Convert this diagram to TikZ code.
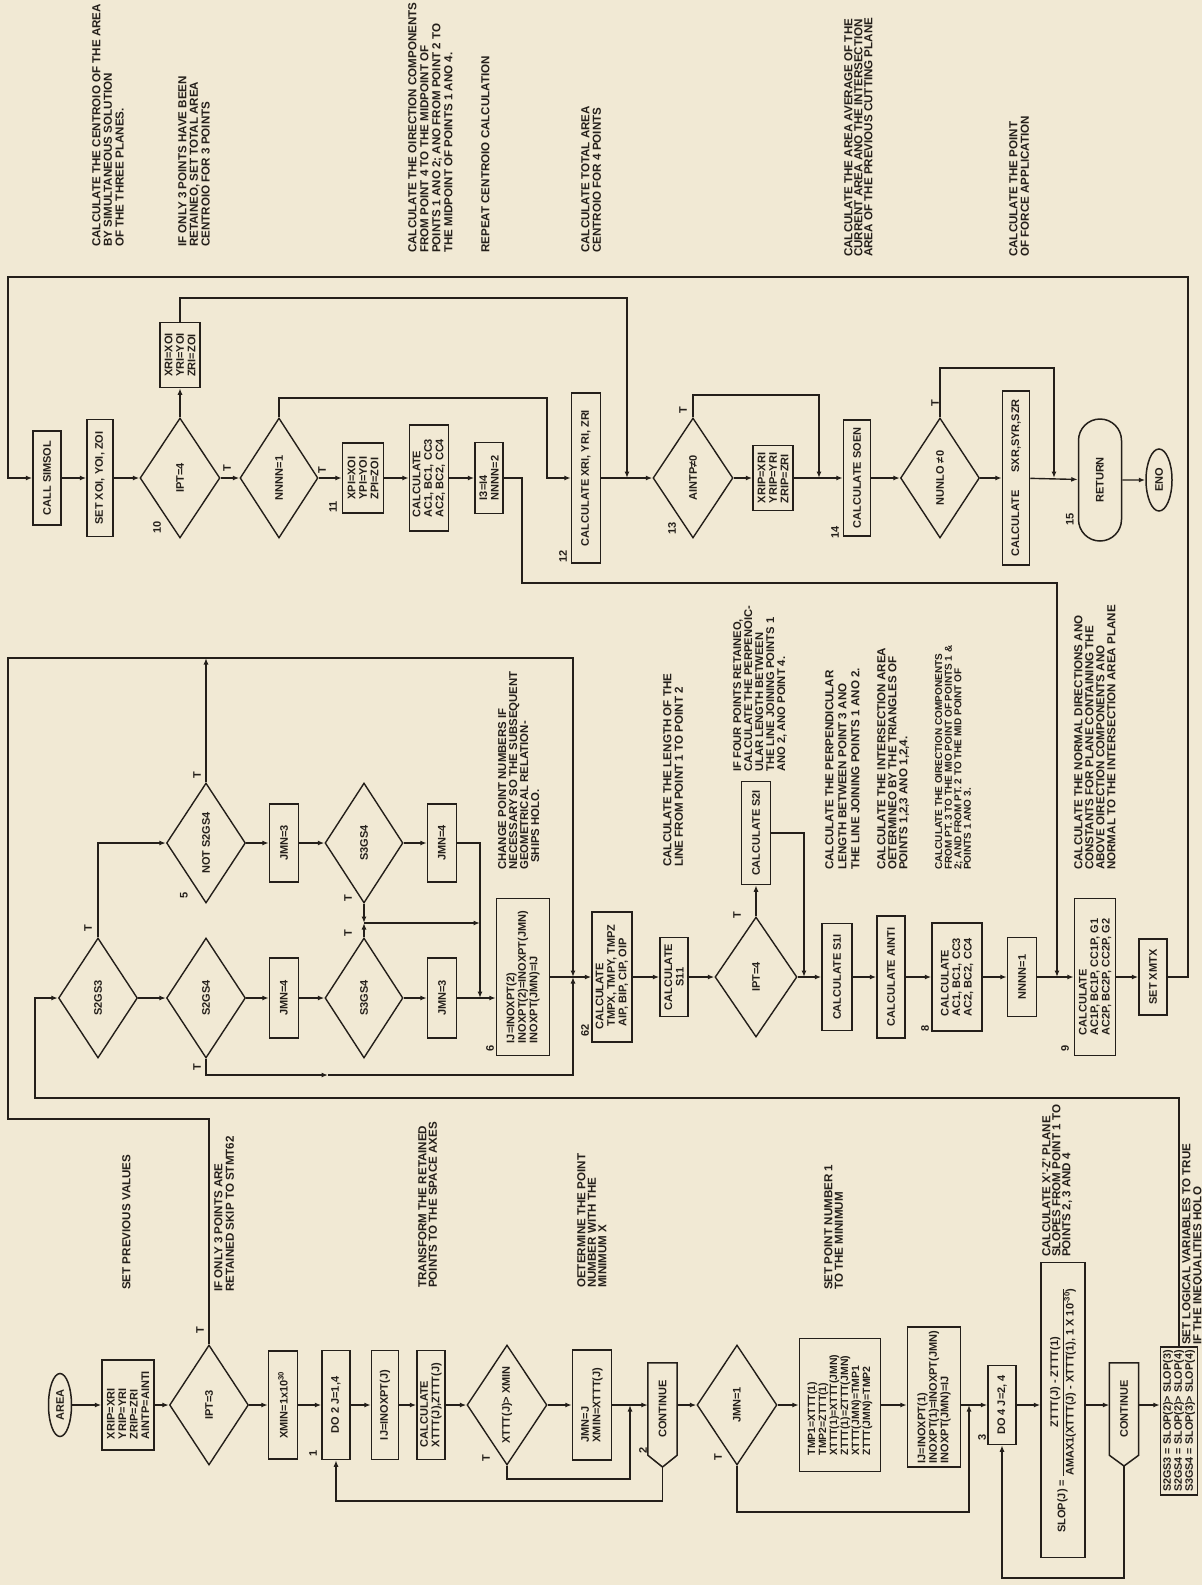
\documentclass[tikz,border=0pt]{standalone}
\usepackage{fontspec}
\usepackage{amsmath}
\setmainfont{Liberation Sans}
\usetikzlibrary{shapes.geometric,shapes.misc,arrows.meta}
\definecolor{bg}{RGB}{241,233,212}
\definecolor{ink}{RGB}{36,31,26}
\newcommand\bxf{\fontsize{11}{11.5}\selectfont\bfseries}
\newcommand\anf{\fontsize{11.6}{11.6}\selectfont\bfseries}
\begin{document}
\begin{tikzpicture}[x=1pt,y=-1pt,
  ln/.style={draw=ink,line width=1.4pt},
  arr/.style={draw=ink,line width=1.4pt,-{Latex[length=6.5pt,width=5pt]}},
  bx/.style={draw=ink,line width=1.5pt,rectangle,rotate=90,inner sep=1pt,font=\bxf,align=left,text=ink},
  dia/.style={draw=ink,line width=1.4pt,diamond,aspect=1.5,rotate=90,inner sep=0pt,font=\bxf,text=ink,minimum width=120,minimum height=80},
  ann/.style={rotate=90,anchor=north west,inner sep=0pt,align=left,font=\anf,text=ink},
  lab/.style={rotate=90,inner sep=0pt,font=\bxf,text=ink},
  term/.style={draw=ink,line width=1.5pt,rounded rectangle,rotate=90,inner sep=1pt,font=\bxf,text=ink},
  ell/.style={draw=ink,line width=1.5pt,ellipse,rotate=90,inner sep=0pt,font=\bxf,text=ink},
  cont/.style={rotate=90,inner sep=0pt,font=\bxf,text=ink,minimum width=92,minimum height=29}
]
\fill[bg] (0,0) rectangle (1202,1585);
\useasboundingbox (0,0) rectangle (1202,1585);

% ---------------- annotations, band A
\node[ann] (a1) at (92,247) {CALCULATE THE CENTROIO OF THE AREA\\BY SIMULTANEOUS SOLUTION\\OF THE THREE PLANES.};
\node[ann] (a2) at (178,247) {IF ONLY 3 POINTS HAVE BEEN\\RETAINEO, SET TOTAL AREA\\CENTROIO FOR 3 POINTS};
\node[ann,font={\fontsize{11.6}{12}\selectfont\bfseries}] (a3) at (408,253) {CALCULATE THE OIRECTION COMPONENTS\\FROM POINT 4 TO THE MIDPOINT OF\\POINTS 1 ANO 2; ANO FROM POINT 2 TO\\THE MIDPOINT OF POINTS 1 ANO 4.};
\node[ann] (a4) at (481,253) {REPEAT CENTROIO CALCULATION};
\node[ann] (a5) at (581,253) {CALCULATE TOTAL AREA\\CENTROIO FOR 4 POINTS};
\node[ann,font={\fontsize{11.6}{10}\selectfont\bfseries}] (a6) at (844,257) {CALCULATE THE AREA AVERAGE OF THE\\CURRENT AREA ANO THE INTERSECTION\\AREA OF THE PREVIOUS CUTTING PLANE};
\node[ann] (a7) at (1009,257) {CALCULATE THE POINT\\OF FORCE APPLICATION};

% ---------------- annotations, band B
\node[ann,font={\fontsize{11.4}{11}\selectfont\bfseries}] (b1) at (498,870) {CHANGE POINT NUMBERS IF\\NECESSARY SO THE SUBSEQUENT\\GEOMETRICAL RELATION-\\\hspace*{7pt}SHIPS HOLO.};
\node[ann] (b2) at (663,867) {CALCULATE THE LENGTH OF THE\\LINE FROM POINT 1 TO POINT 2};
\node[ann,font={\fontsize{11.2}{11}\selectfont\bfseries}] (b3) at (733,772) {IF FOUR POINTS RETAINEO,\\CALCULATE THE PERPENOIC-\\ULAR LENGTH BETWEEN\\THE LINE JOINING POINTS 1\\ANO 2, ANO POINT 4.};
\node[ann,font={\fontsize{11.6}{13}\selectfont\bfseries}] (b4) at (825,870) {CALCULATE THE PERPENDICULAR\\LENGTH BETWEEN POINT 3 ANO\\THE LINE JOINING POINTS 1 ANO 2.};
\node[ann,font={\fontsize{11.6}{11}\selectfont\bfseries}] (b5) at (877,870) {CALCULATE THE INTERSECTION AREA\\OETERMINEO BY THE TRIANGLES OF\\POINTS 1,2,3 ANO 1,2,4.};
\node[ann,font={\fontsize{10}{9.6}\selectfont\bfseries}] (b6) at (935,870) {CALCULATE THE OIRECTION COMPONENTS\\FROM PT. 3 TO THE MIO POINT OF POINTS 1 \&\\2; AND FROM PT. 2 TO THE MID POINT OF\\POINTS 1 ANO 3.};
\node[ann,font={\fontsize{11.6}{11}\selectfont\bfseries}] (b7) at (1074,870) {CALCULATE THE NORMAL DIRECTIONS ANO\\CONSTANTS FOR PLANE CONTAINING THE\\ABOVE OIRECTION COMPONENTS ANO\\NORMAL TO THE INTERSECTION AREA PLANE};

% ---------------- annotations, band C
\node[ann] (c1) at (122,1290) {SET PREVIOUS VALUES};
\node[ann] (c2) at (214,1292) {IF ONLY 3 POINTS ARE\\RETAINED SKIP TO STMT62};
\node[ann,font={\fontsize{11.6}{10.5}\selectfont\bfseries}] (c3) at (418,1288) {TRANSFORM THE RETAINED\\POINTS TO THE SPACE AXES};
\node[ann,font={\fontsize{11.6}{10.5}\selectfont\bfseries}] (c4) at (577,1288) {OETERMINE THE POINT\\NUMBER WITH THE\\MINIMUM X};
\node[ann,font={\fontsize{11.6}{10.5}\selectfont\bfseries}] (c5) at (824,1290) {SET POINT NUMBER 1\\TO THE MINIMUM};
\node[ann,font={\fontsize{11.6}{10}\selectfont\bfseries}] (c6) at (1042,1257) {CALCULATE X'-Z' PLANE\\SLOPES FROM POINT 1 TO\\POINTS 2, 3 AND 4};
\node[ann,font={\fontsize{11.6}{11}\selectfont\bfseries}] (c7) at (1182,1345) {SET LOGICAL VARIABLES TO TRUE\\IF THE INEQUALITIES HOLO};

% ---------------- band A nodes
\node[bx,minimum width=94,minimum height=28] (simsol) at (47,478) {CALL SIMSOL};
\node[bx,minimum width=117,minimum height=26] (setxoi) at (100,478) {SET XOI, YOI, ZOI};
\node[dia] (ipt4) at (180,478) {IPT=4};
\node[bx,minimum width=65,minimum height=40] (xrixoi) at (180,355) {XRI=XOI\\YRI=YOI\\ZRI=ZOI};
\node[dia,minimum height=78] (nnnn1) at (279,478) {NNNN=1};
\node[bx,minimum width=70,minimum height=41] (xpi) at (363,478) {XPI=XOI\\YPI=YOI\\ZPI=ZOI};
\node[bx,minimum width=106,minimum height=39] (ac1a) at (429,478) {CALCULATE\\AC1, BC1, CC3\\AC2, BC2, CC4};
\node[bx,minimum width=71,minimum height=28] (i3i4) at (489,478) {I3=I4\\NNNN=2};
\node[bx,minimum width=170,minimum height=29] (calcxri) at (586,478) {CALCULATE XRI, YRI, ZRI};
\node[dia] (aintp) at (693,478) {AINTP≠0};
\node[bx,minimum width=65,minimum height=40] (xrip) at (773,478) {XRIP=XRI\\YRIP=YRI\\ZRIP=ZRI};
\node[bx,minimum width=116,minimum height=27] (soen) at (857,478) {CALCULATE SOEN};
\node[dia,minimum height=79] (nunlo) at (940,478) {NUNLO ≠0};
\node[bx,minimum width=174,minimum height=27] (sxr) at (1016,478) {CALCULATE\hspace{18pt}SXR,SYR,SZR};
\node[term,minimum width=124,minimum height=43] (ret) at (1100,480) {RETURN};
\node[ell,minimum width=62,minimum height=26] (endn) at (1159,480) {ENO};

\coordinate (j13) at (627,478);
\coordinate (j14) at (819,478);
\coordinate (j15) at (1054,478);

% ---------------- band B nodes
\node[dia,minimum height=79] (s2gs3) at (98,998) {S2GS3};
\node[dia,minimum height=79] (s2gs4) at (206,998) {S2GS4};
\node[dia,minimum height=79] (nots2) at (206,843) {NOT S2GS4};
\node[bx,minimum width=80,minimum height=29] (jmn4a) at (284,998) {JMN=4};
\node[bx,minimum width=78,minimum height=29] (jmn3a) at (284,843) {JMN=3};
\node[dia,minimum height=78] (s3a) at (364,843) {S3GS4};
\node[dia,minimum height=78] (s3b) at (364,998) {S3GS4};
\node[bx,minimum width=78,minimum height=29] (jmn4b) at (442,843) {JMN=4};
\node[bx,minimum width=80,minimum height=29] (jmn3b) at (442,998) {JMN=3};
\node[bx,minimum width=157,minimum height=53] (box6) at (523,977) {IJ=INOXPT(2)\\INOXPT(2)=INOXPT(JMN)\\INOXPT(JMN)=IJ};
\node[bx,minimum width=130,minimum height=40] (tmpx) at (612,977) {CALCULATE\\\hspace*{3pt}TMPX, TMPY, TMPZ\\\hspace*{3pt}AIP, BIP, CIP, OIP};
\node[bx,align=center,minimum width=79,minimum height=28] (s1a) at (674,977) {CALCULATE\\S11};
\node[dia,minimum height=82] (ipt4b) at (756,977) {IPT=4};
\node[bx,minimum width=103,minimum height=29] (s2i) at (756,833) {CALCULATE S2I};
\node[bx,minimum width=107,minimum height=30] (s1b) at (837,977) {CALCULATE S1I};
\node[bx,minimum width=122,minimum height=28] (ainti) at (891,977) {CALCULATE AINTI};
\node[bx,minimum width=108,minimum height=50] (ac1b) at (957,977) {CALCULATE\\AC1, BC1, CC3\\AC2, BC2, CC4};
\node[bx,minimum width=79,minimum height=29] (nnnn1b) at (1022,977) {NNNN=1};
\node[bx,minimum width=157,minimum height=41] (ac1p) at (1095,977) {CALCULATE\\AC1P, BC1P, CC1P, G1\\AC2P, BC2P, CC2P, G2};
\node[bx,minimum width=76,minimum height=28] (xmtx) at (1153,977) {SET XMTX};

\coordinate (j9) at (1057,977);
\coordinate (j62) at (573,977);
\coordinate (j6) at (480,998);
\coordinate (jT) at (364,923);
\coordinate (jV) at (480,923);
\coordinate (jT5) at (206,658);
\coordinate (jS2) at (804,977);

% ---------------- band C nodes
\node[ell,minimum width=63,minimum height=23] (area) at (60,1405) {AREA};
\node[bx,minimum width=90,minimum height=52] (xrip0) at (128,1405) {XRIP=XRI\\YRIP=YRI\\ZRIP=ZRI\\AINTP=AINTI};
\node[dia,minimum height=79] (ipt3) at (209,1405) {IPT=3};
\node[bx,minimum width=108,minimum height=29] (xmin) at (283,1405) {XMIN=1x10\textsuperscript{30}};
\node[bx,minimum width=109,minimum height=28] (do2) at (336,1405) {DO 2 J=1,4};
\node[bx,minimum width=109,minimum height=27] (ijx) at (385,1405) {IJ=INOXPT(J)};
\node[bx,minimum width=109,minimum height=28] (cxt) at (431,1405) {CALCULATE\\XTTT(J),ZTTT(J)};
\node[dia] (xtd) at (507,1405) {XTTT(J)> XMIN};
\node[bx,minimum width=110,minimum height=39] (jmnj) at (592,1405) {JMN=J\\XMIN=XTTT(J)};
\node[cont] (cont1) at (662.5,1409) {CONTINUE};
\coordinate (cont1tip) at (662.5,1467);
\node[dia] (jmn1) at (737,1405) {JMN=1};
\node[bx,font={\fontsize{10.5}{11}\selectfont\bfseries},minimum width=133,minimum height=81] (tmp1) at (840,1405) {TMP1=XTTT(1)\\TMP2=ZTTT(1)\\XTTT(1)=XTTT(JMN)\\ZTTT(1)=ZTTT(JMN)\\XTTT(JMN)=TMP1\\ZTTT(JMN)=TMP2};
\node[bx,minimum width=140,minimum height=53] (inox1) at (934,1397) {IJ=INOXPT(1)\\INOXPT(1)=INOXPT(JMN)\\INOXPT(JMN)=IJ};
\node[bx,minimum width=79,minimum height=28] (do4) at (1002,1405) {DO 4 J=2, 4};
\node[bx,align=center,minimum width=295,minimum height=44] (slop) at (1063,1410) {SLOP(J) = $\dfrac{\text{ZTTT(J) - ZTTT(1)}}{\text{AMAX1(XTTT(J) - XTTT(1), 1 X 10\textsuperscript{-30})}}$};
\node[cont] (cont2) at (1124,1409) {CONTINUE};
\coordinate (cont2tip) at (1124,1466);
\node[bx,font={\fontsize{10.8}{11}\selectfont\bfseries},minimum width=148,minimum height=37] (logic) at (1179,1421) {S2GS3 = SLOP(2)> SLOP(3)\\S2GS4 = SLOP(2)> SLOP(4)\\S3GS4 = SLOP(3)> SLOP(4)};

\coordinate (j2) at (630,1405);
\coordinate (j3) at (969,1405);

\draw[ln,line width=1.5pt] (cont1.north east) -- (cont1.south east) -- (cont1.south west) -- (cont1tip) -- (cont1.north west) -- cycle;
\draw[ln,line width=1.5pt] (cont2.north east) -- (cont2.south east) -- (cont2.south west) -- (cont2tip) -- (cont2.north west) -- cycle;

% ---------------- labels
\node[lab] (l10) at (157,527) {10};
\node[lab] (l11) at (333,507) {11};
\node[lab] (l12) at (563,556) {12};
\node[lab] (l13) at (672,528) {13};
\node[lab] (l14) at (835,532) {14};
\node[lab] (l15) at (1070,519) {15};
\node[lab] (l5) at (184,895) {5};
\node[lab] (l6) at (490,1048) {6};
\node[lab] (l62) at (585,1030) {62};
\node[lab] (l8) at (925,1028) {8};
\node[lab] (l9) at (1065,1048) {9};
\node[lab] (l1) at (313,1453) {1};
\node[lab] (l2) at (643,1450) {2};
\node[lab] (l3) at (982,1437) {3};
\node[lab] (tA1) at (227,468) {T};
\node[lab] (tA2) at (322,470) {T};
\node[lab] (tA3) at (683,410) {T};
\node[lab] (tA4) at (935,403) {T};
\node[lab] (tB1) at (88,928) {T};
\node[lab] (tB2) at (197,775) {T};
\node[lab] (tB3) at (197,1067) {T};
\node[lab] (tB4) at (348,898) {T};
\node[lab] (tB5) at (348,933) {T};
\node[lab] (tB6) at (737,915) {T};
\node[lab] (tC1) at (200,1330) {T};
\node[lab] (tC2) at (486,1458) {T};
\node[lab] (tC3) at (718,1457) {T};

% ---------------- band A connectors
\draw[arr] (simsol) -- (setxoi);
\draw[arr] (setxoi) -- (ipt4);
\draw[arr] (ipt4) -- (nnnn1);
\draw[arr] (ipt4) -- (xrixoi);
\draw[arr] (nnnn1) -- (xpi);
\draw[arr] (xpi) -- (ac1a);
\draw[arr] (ac1a) -- (i3i4);
\draw[arr] (i3i4) -| (522,583) -| (j9);
\draw[arr] (nnnn1.east) |- (547,398) -- (547,478) -- (calcxri);
\draw[arr] (xrixoi.east) |- (627,298) -- (j13);
\draw[arr] (calcxri) -- (aintp);
\draw[arr] (aintp) -- (xrip);
\draw[arr] (aintp.east) |- (819,395) -- (j14);
\draw[arr] (xrip) -- (soen);
\draw[arr] (soen) -- (nunlo);
\draw[arr] (nunlo) -- (sxr);
\draw[arr] (nunlo.east) |- (1054,368) -- (j15);
\draw[arr] (sxr) -- (ret);
\draw[arr] (ret) -- (endn);
\draw[arr] (xmtx) -| (1188,277) -- (8,277) -- (8,478) -- (simsol);

% ---------------- band B connectors
\draw[arr] (logic.east) |- (35,1098) -- (35,998) -- (s2gs3);
\draw[arr] (s2gs3.east) |- (nots2);
\draw[arr] (s2gs3) -- (s2gs4);
\draw[arr] (s2gs4) -- (jmn4a);
\draw[arr] (jmn4a) -- (s3b);
\draw[arr] (s3b) -- (jmn3b);
\draw[arr] (nots2) -- (jmn3a);
\draw[arr] (jmn3a) -- (s3a);
\draw[arr] (s3a) -- (jmn4b);
\draw[arr] (jmn4b) -| (j6);
\draw[arr] (jmn3b) -- (box6.north |- jmn3b);
\draw[arr] (s3a.west) -- (jT);
\draw[arr] (s3b.east) -- (jT);
\draw[arr] (jT) -- (jV);
\draw[arr] (s2gs4.west) |- (328,1075);
\draw[arr] (328,1075) -| (j62);
\draw[arr] (ipt3.east) -- (209,1119) -- (8,1119) -- (8,658) -- (573,658) -- (j62);
\draw[arr] (nots2.east) -- (jT5);
\draw[arr] (box6) -- (tmpx);
\draw[arr] (tmpx) -- (s1a);
\draw[arr] (s1a) -- (ipt4b);
\draw[arr] (ipt4b) -- (s2i);
\draw[arr] (s2i) -| (jS2);
\draw[arr] (ipt4b) -- (s1b);
\draw[arr] (s1b) -- (ainti);
\draw[arr] (ainti) -- (ac1b);
\draw[arr] (ac1b) -- (nnnn1b);
\draw[arr] (nnnn1b) -- (ac1p);
\draw[arr] (ac1p) -- (xmtx);

% ---------------- band C connectors
\draw[arr] (area) -- (xrip0);
\draw[arr] (xrip0) -- (ipt3);
\draw[arr] (ipt3) -- (xmin);
\draw[arr] (xmin) -- (do2);
\draw[arr] (do2) -- (ijx);
\draw[arr] (ijx) -- (cxt);
\draw[arr] (cxt) -- (xtd);
\draw[arr] (xtd) -- (jmnj);
\draw[arr] (xtd.west) |- (630,1479) -- (j2);
\draw[arr] (jmnj) -- (cont1.north |- jmnj);
\draw[arr] (cont1tip) |- (336,1501) -- (do2);
\draw[arr] (cont1.south |- jmn1) -- (jmn1);
\draw[arr] (jmn1) -- (tmp1);
\draw[arr] (jmn1.west) |- (969,1512) -- (j3);
\draw[arr] (tmp1.south |- jmn1) -- (inox1.north |- jmn1);
\draw[arr] (inox1.south |- do4) -- (do4);
\draw[arr] (do4) -- (slop.north |- do4);
\draw[arr] (slop.south |- do4) -- (cont2.north |- do4);
\draw[arr] (cont2tip) |- (1002,1578) -- (do4);
\draw[arr] (cont2.south |- do4) -- (logic.north |- do4);
\end{tikzpicture}
\end{document}
